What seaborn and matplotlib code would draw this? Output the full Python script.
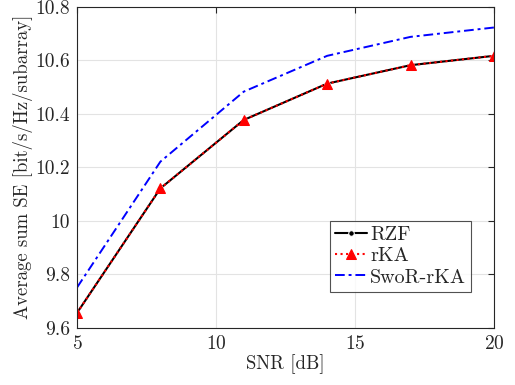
import numpy as np
import pandas as pd
import matplotlib
matplotlib.use("Agg")
import matplotlib.pyplot as plt
import seaborn as sns

snr_db = [5, 8, 11, 14, 17, 20]
se_rzf = [9.655, 10.121, 10.377, 10.513, 10.582, 10.617]
se_rka = [9.655, 10.121, 10.377, 10.513, 10.582, 10.617]
se_swor_rka = [9.750, 10.221, 10.483, 10.617, 10.688, 10.723]

sns.set_style("whitegrid")
plt.rcParams["font.family"] = ["cmr10", "DejaVu Serif"]
plt.rcParams["axes.formatter.use_mathtext"] = True
plt.rcParams["mathtext.fontset"] = "cm"

df = pd.DataFrame({"snr": snr_db, "RZF": se_rzf, "rKA": se_rka, "SwoR-rKA": se_swor_rka})

fig = plt.figure(figsize=(5.15, 3.85), dpi=100)
ax = fig.add_axes([0.1495, 0.149, 0.8095, 0.833])

sns.lineplot(data=df, x="snr", y="RZF", ax=ax, color="black", linestyle="-",
             marker="o", markersize=4, linewidth=1.5, label="RZF")
sns.lineplot(data=df, x="snr", y="rKA", ax=ax, color="red", linestyle=":",
             marker="^", markersize=6.5, markerfacecolor="red", markeredgecolor="red",
             linewidth=1.5, label="rKA")
sns.lineplot(data=df, x="snr", y="SwoR-rKA", ax=ax, color="blue",
             linewidth=1.4, label="SwoR-rKA")
ax.lines[-1].set_dashes((5, 2, 1.5, 2))

ax.set_xlim(5, 20)
ax.set_ylim(9.6, 10.8)
ax.set_xticks([5, 10, 15, 20])
ax.set_yticks([9.6, 9.8, 10.0, 10.2, 10.4, 10.6, 10.8])
ax.set_yticklabels(["9.6", "9.8", "10", "10.2", "10.4", "10.6", "10.8"])
ax.set_xlabel("SNR [dB]", fontsize=13.5, color="#262626", labelpad=1)
ax.set_ylabel("Average sum SE [bit/s/Hz/subarray]", fontsize=13.5, color="#262626", labelpad=2)
ax.tick_params(axis="both", direction="in", labelsize=14, length=4, colors="#262626",
               top=True, right=True, pad=5)
ax.grid(True, color="#e3e3e3", linewidth=0.8)
for s in ax.spines.values():
    s.set_color("#262626")
    s.set_linewidth(0.8)

leg = ax.legend(loc="lower right", bbox_to_anchor=(0.955, 0.1), fontsize=14.5,
                frameon=True, fancybox=False, handlelength=1.6, handletextpad=0.15,
                borderpad=0.25, labelspacing=0.15, borderaxespad=0.2)
leg.get_frame().set_edgecolor("#262626")
leg.get_frame().set_linewidth(0.8)

fig.savefig("out.png", dpi=100)
